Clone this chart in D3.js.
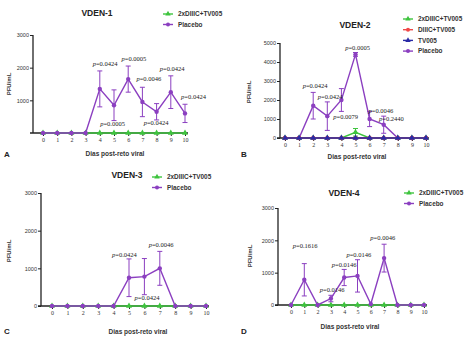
<!DOCTYPE html>
<html><head><meta charset="utf-8">
<script src="https://cdn.jsdelivr.net/npm/d3@7/dist/d3.min.js"></script>
<style>body{margin:0;background:#fff}svg{display:block}</style>
</head><body><svg id="c" width="474" height="337"></svg>
<script>
const days = [0,1,2,3,4,5,6,7,8,9,10];
const dayLabels = ["0","1","2","3","4","5","6","7","8","9","10"];
const seriesNames = ["2xDIIIC+TV005","DIIIC+TV005","TV005","Placebo"];

// VDEN-1
const placeboA = [0,0,0,0,1350,850,1650,950,650,1250,600];
const placeboAErr = [0,0,0,0,550,470,400,450,250,500,280];
const greenA = [0,0,0,0,0,0,0,0,0,0,0];
const pA = [["0.0424",4.37,2050],["0.0005",6.4,2190],["0.0046",7.45,1580],["0.0424",9.1,1910],["0.0424",10.6,1040],["0.0005",4.9,200],["0.0424",7.96,250]];
const yTicksA = [1000,2000,3000];
// VDEN-2
const placeboB = [0,0,1700,1150,2000,4400,1000,700,0,0,0];
const placeboBErr = [0,0,700,750,600,100,400,450,0,0,0];
const greenB = [0,0,0,0,0,300,0,0,0,0,0];
const greenBErr = [0,0,0,0,0,200,0,0,0,0,0];
const redB = [0,0,0,0,0,0,0,0,0,0,0];
const blueB = [0,0,0,0,0,0,0,0,0,0,0];
const pB = [["0.0424",2.13,2610],["0.0424",3.2,2030],["0.0079",4.3,1000],["0.0005",5.15,4610],["0.0046",6.8,1340],["0.2440",7.55,900]];
const yTicksB = [0,1000,2000,3000,4000,5000];
// VDEN-3
const placeboC = [0,0,0,0,0,750,780,1000,0,0,0];
const placeboCErr = [0,0,0,0,0,500,480,450,0,0,0];
const greenC = [0,0,0,0,0,0,0,0,0,0,0];
const pC = [["0.0424",4.7,1310],["0.0046",7.08,1560],["0.0424",6.17,160]];
const yTicksC = [0,1000,2000,3000];
// VDEN-4
const placeboD = [0,780,0,200,850,900,30,1450,0,0,0];
const placeboDErr = [0,500,0,100,250,500,0,430,0,0,0];
const greenD = [0,0,0,0,0,0,0,0,0,0,0];
const pD = [["0.1616",1.07,1760],["0.0146",3.1,390],["0.0146",4.0,1170],["0.0146",5.1,1480],["0.0046",6.9,2000]];
const yTicksD = [0,1000,2000,3000];

const COL = {green:"#3ec43e", red:"#f04848", blue:"#2a2aa6", purple:"#8b3fc0"};

const panels = [
 {title:"VDEN-1", letter:"A", ax:33, x0:43, x10:185, y0:133, yT:35, yMax:3000, yTicks:yTicksA,
  tx:97, ty:16, lx:163, ly:14, xlx:115, xly:156, lex:4, ley:157, ylx:11, yly:84,
  series:[{n:0,c:COL.green,v:greenA,m:"tri"},{n:3,c:COL.purple,v:placeboA,e:placeboAErr,m:"circle"}],
  legend:[0,3], p:pA},
 {title:"VDEN-2", letter:"B", ax:280, x0:285, x10:426, y0:138, yT:43, yMax:5000, yTicks:yTicksB,
  tx:355, ty:28, lx:403, ly:19, xlx:357, xly:159, lex:241, ley:157, ylx:251, yly:92,
  series:[{n:3,c:COL.purple,v:placeboB,e:placeboBErr,m:"circle"},{n:0,c:COL.green,v:greenB,e:greenBErr,m:"tri"},{n:1,c:COL.red,v:redB,m:"circle"},{n:2,c:COL.blue,v:blueB,m:"tri"}],
  legend:[0,1,2,3], p:pB},
 {title:"VDEN-3", letter:"C", ax:41, x0:52, x10:206, y0:306, yT:193, yMax:3000, yTicks:yTicksC,
  tx:127, ty:178, lx:152, ly:177, xlx:138, xly:334, lex:4, ley:334, ylx:11, yly:251,
  series:[{n:0,c:COL.green,v:greenC,m:"tri"},{n:3,c:COL.purple,v:placeboC,e:placeboCErr,m:"circle"}],
  legend:[0,3], p:pC},
 {title:"VDEN-4", letter:"D", ax:278, x0:291, x10:424, y0:305, yT:208, yMax:3000, yTicks:yTicksD,
  tx:344, ty:196, lx:404, ly:193, xlx:350, xly:329, lex:241, ley:334, ylx:252, yly:256,
  series:[{n:0,c:COL.green,v:greenD,m:"tri"},{n:3,c:COL.purple,v:placeboD,e:placeboDErr,m:"circle"}],
  legend:[0,3], p:pD}
];

const svg = d3.select("#c");
const sans = "Liberation Sans, Arial, sans-serif";
const serif = "Liberation Serif, Times New Roman, serif";

function marker(g, type, x, y, c, r){
  if(type==="circle") g.append("circle").attr("cx",x).attr("cy",y).attr("r",r).attr("fill",c);
  else g.append("path").attr("d",d3.symbol(d3.symbolTriangle, r*r*3.2)()).attr("transform",`translate(${x},${y})`).attr("fill",c);
}

panels.forEach(P=>{
  const g = svg.append("g");
  const x = d3.scaleLinear().domain([0,10]).range([P.x0,P.x10]);
  const y = d3.scaleLinear().domain([0,P.yMax]).range([P.y0,P.yT]);

  const ya = g.append("g").attr("transform",`translate(${P.ax},0)`)
    .call(d3.axisLeft(y).tickValues(P.yTicks).tickSize(3).tickPadding(1).tickFormat(d3.format("d")));
  ya.select(".domain").attr("stroke","#222").attr("stroke-width",1.3).attr("d",`M0,${P.y0}V${P.yT}`);
  ya.selectAll(".tick line").attr("stroke","#222").attr("stroke-width",1);
  ya.selectAll("text").attr("font-family",sans).attr("font-size",5.5).attr("fill","#333");
  const xa = g.append("g").attr("transform",`translate(0,${P.y0})`)
    .call(d3.axisBottom(x).tickValues(days).tickSize(3).tickPadding(2).tickFormat((d,i)=>dayLabels[i]));
  xa.select(".domain").attr("stroke","#222").attr("stroke-width",1.3).attr("d",`M${P.ax-3},0H${P.x10+3}`);
  xa.selectAll(".tick line").attr("stroke","#222");
  xa.selectAll("text").attr("font-family",serif).attr("font-size",6).attr("fill","#333");

  P.series.forEach(S=>{
    const line = d3.line().x((d,i)=>x(days[i])).y(d=>y(d));
    if(S.e){
      S.v.forEach((v,i)=>{
        const e=S.e[i]; if(!e) return;
        const xx=x(days[i]);
        g.append("line").attr("x1",xx).attr("x2",xx).attr("y1",y(v-e)).attr("y2",y(v+e)).attr("stroke",S.c).attr("stroke-width",1);
        [v-e,v+e].forEach(b=>g.append("line").attr("x1",xx-2.5).attr("x2",xx+2.5).attr("y1",y(b)).attr("y2",y(b)).attr("stroke",S.c).attr("stroke-width",1));
      });
    }
    g.append("path").attr("d",line(S.v)).attr("fill","none").attr("stroke",S.c).attr("stroke-width",1.4);
    S.v.forEach((v,i)=>marker(g,S.m,x(days[i]),y(v),S.c,2.2));
  });

  P.p.forEach(p=>{
    const t = g.append("text").attr("x",x(p[1])).attr("y",y(p[2])).attr("text-anchor","middle")
      .attr("font-family",serif).attr("font-size",6.5).attr("fill","#222");
    t.append("tspan").attr("font-style","italic").text("p");
    t.append("tspan").text("="+p[0]);
  });

  g.append("text").attr("x",P.tx).attr("y",P.ty).attr("text-anchor","middle").attr("font-family",sans)
    .attr("font-weight","bold").attr("font-size",8.5).attr("fill","#222").text(P.title);
  P.legend.forEach((n,k)=>{
    const S = P.series.find(s=>s.n===n);
    const yy = P.ly + k*(P.legend.length>2?10.7:10.5);
    g.append("line").attr("x1",P.lx).attr("x2",P.lx+10).attr("y1",yy).attr("y2",yy).attr("stroke",S.c).attr("stroke-width",1.4);
    marker(g,S.m,P.lx+5,yy,S.c,2);
    g.append("text").attr("x",P.lx+15).attr("y",yy+2.2).attr("font-family",sans).attr("font-weight","bold")
      .attr("font-size",6.4).attr("fill","#333").text(seriesNames[n]);
  });
  g.append("text").attr("x",P.xlx).attr("y",P.xly).attr("text-anchor","middle").attr("font-family",sans)
    .attr("font-weight","bold").attr("font-size",6.5).attr("fill","#333").text("Dias post-reto viral");
  g.append("text").attr("transform",`translate(${P.ylx},${P.yly}) rotate(-90)`).attr("text-anchor","middle")
    .attr("font-family",sans).attr("font-weight","bold").attr("font-size",6).attr("fill","#333").text("PFU/mL");
  g.append("text").attr("x",P.lex).attr("y",P.ley).attr("font-family",sans).attr("font-weight","bold")
    .attr("font-size",8).attr("fill","#222").text(P.letter);
});
</script></body></html>
